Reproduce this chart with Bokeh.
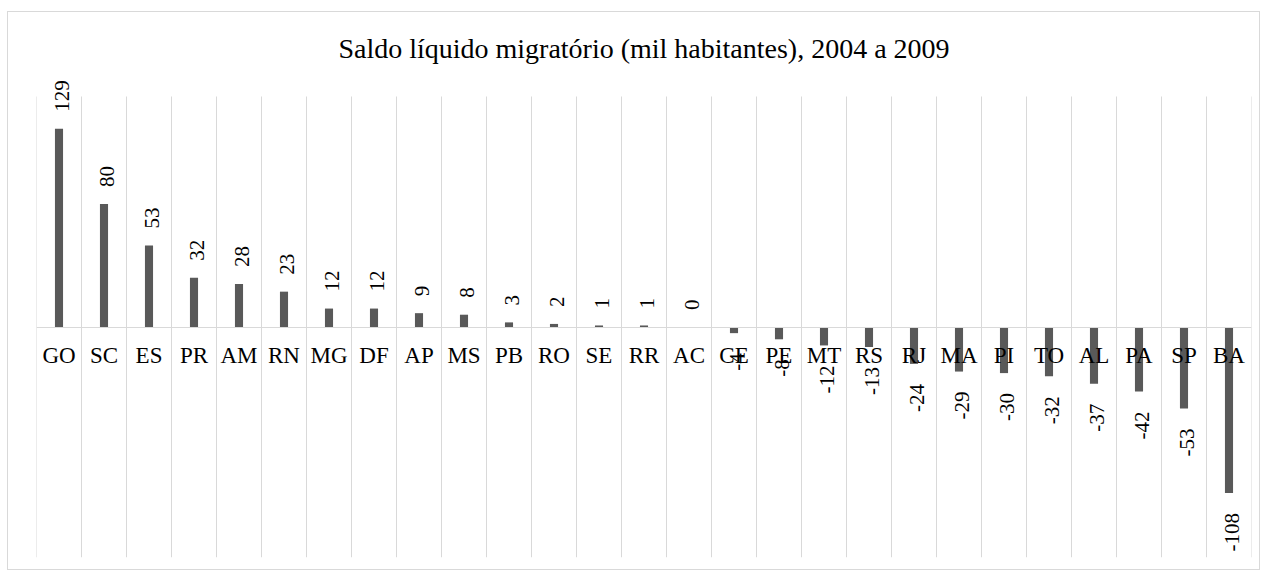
import math
from bokeh.plotting import figure
from bokeh.models import ColumnDataSource, FixedTicker, Range1d, LabelSet, Title
from bokeh.embed import file_html
from bokeh.resources import INLINE
from bokeh.core.properties import value

states = ["GO", "SC", "ES", "PR", "AM", "RN", "MG", "DF", "AP", "MS", "PB", "RO", "SE", "RR",
          "AC", "CE", "PE", "MT", "RS", "RJ", "MA", "PI", "TO", "AL", "PA", "SP", "BA"]
saldo = [129, 80, 53, 32, 28, 23, 12, 12, 9, 8, 3, 2, 1, 1, 0, -4, -8, -12, -13, -24, -29,
         -30, -32, -37, -42, -53, -108]
title_text = "Saldo líquido migratório (mil habitantes), 2004 a 2009"
axis_min, axis_max = -150, 150

n = len(states)
xpos = [i + 0.5 for i in range(n)]
src = ColumnDataSource(dict(x=xpos, v=saldo))
pos_src = ColumnDataSource(dict(
    x=[x for x, v in zip(xpos, saldo) if v >= 0],
    v=[v for v in saldo if v >= 0],
    lbl=[str(v) for v in saldo if v >= 0]))
neg_src = ColumnDataSource(dict(
    x=[x for x, v in zip(xpos, saldo) if v < 0],
    v=[v for v in saldo if v < 0],
    lbl=[str(v) for v in saldo if v < 0]))
edges = list(range(n + 1))
grid_src = ColumnDataSource(dict(x=edges, y0=[axis_min] * len(edges), y1=[axis_max] * len(edges)))

FONT = "Liberation Serif"
GRID = "#d9d9d9"

# frame: 461 px for the -150..150 axis, plus 21 px headroom for the top label
headroom = (axis_max - axis_min) * 21 / 461
p = figure(width=1253, height=559, output_backend="svg", toolbar_location=None,
           x_range=Range1d(0, n), y_range=Range1d(axis_min, axis_max + headroom),
           min_border_left=28, min_border_right=10, min_border_top=63, min_border_bottom=14,
           styles={"border": "1px solid #d9d9d9", "margin": "11px 0px 0px 7px"})
p.title = None

# small spacer between the frame and the title
p.add_layout(Title(text=" ", text_font_size="4px", standoff=0), "above")
p.add_layout(Title(text=title_text, align="center", text_font=FONT, text_font_size="28px",
                   text_font_style="normal", text_color="#000000"), "above")

p.outline_line_color = None
p.background_fill_color = "white"
p.border_fill_color = "white"
p.xgrid.grid_line_color = None
p.ygrid.grid_line_color = None
p.yaxis.visible = False

p.segment(x0="x", x1="x", y0="y0", y1="y1", source=grid_src, line_color=GRID, line_width=1)

p.vbar(x="x", top="v", bottom=0, width=0.18, source=src,
       fill_color="#595959", line_color=None)

lab_kw = dict(x="x", y="v", text="lbl", angle=math.pi / 2, text_baseline="middle",
              text_font=value(FONT), text_font_size="21px", text_color="#000000", x_offset=3)
p.add_layout(LabelSet(source=pos_src, text_align="left", y_offset=17, **lab_kw))
p.add_layout(LabelSet(source=neg_src, text_align="right", y_offset=-20, **lab_kw))

ax = p.xaxis[0]
ax.fixed_location = 0
ax.ticker = FixedTicker(ticks=xpos)
ax.major_label_overrides = {x: s for x, s in zip(xpos, states)}
ax.axis_line_color = GRID
ax.major_tick_line_color = None
ax.minor_tick_line_color = None
ax.major_label_standoff = 10
ax.major_label_text_font = FONT
ax.major_label_text_font_size = "23px"
ax.major_label_text_color = "#000000"

open("out.html", "w").write(file_html(p, INLINE))
